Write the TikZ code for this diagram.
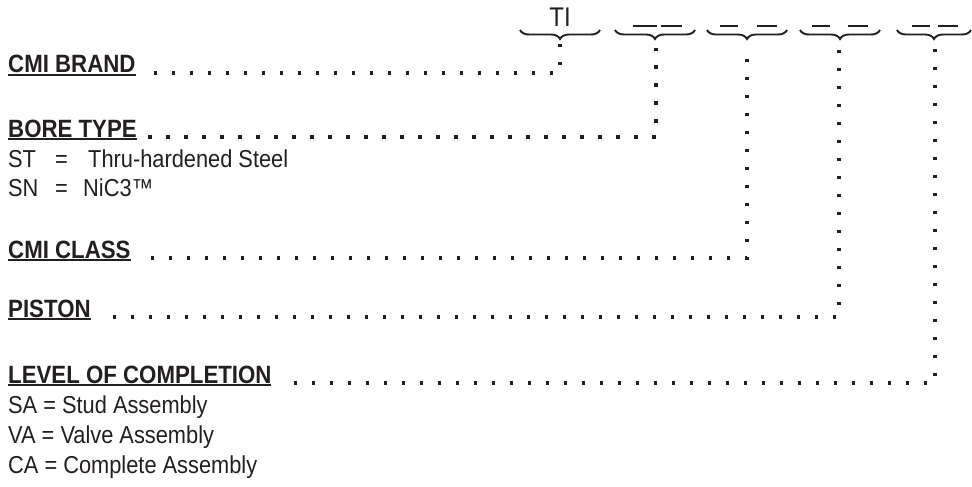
\documentclass[tikz,border=0pt]{standalone}
\usepackage{fontspec}
\setmainfont{Liberation Sans}[FakeStretch=0.89]
\usetikzlibrary{decorations.pathreplacing}
\definecolor{ink}{HTML}{231F20}
\newcommand{\ulbold}[1]{\setbox0=\hbox{#1}\rlap{\rule[-3pt]{\wd0}{2pt}}\box0}
\begin{document}
\begin{tikzpicture}[x=1pt,y=-1pt,
  lbl/.style={anchor=base west, inner sep=0pt, text=ink, font=\fontsize{25}{30}\selectfont\bfseries},
  desc/.style={anchor=base west, inner sep=0pt, text=ink, font=\fontsize{24.5}{30}\selectfont},
  dotline/.style={draw=ink, line width=3.6pt, dash pattern=on 3.6pt off 14.4pt},
  bracemark/.style={draw=ink, line width=1.9pt, decorate, decoration={brace, mirror, amplitude=9pt}},
  dashmark/.style={draw=ink, line width=2.8pt}]
\useasboundingbox (0,0) rectangle (972,487);

% header
\node[anchor=base, inner sep=0pt, text=ink, font=\fontsize{27}{30}\selectfont] (ti) at (560,27) {TI};
\draw[bracemark] (520,30) -- (600,30);
\draw[bracemark] (615,30) -- (695,30);
\draw[bracemark] (707,30) -- (787,30);
\draw[bracemark] (800,30) -- (880,30);
\draw[bracemark] (897,30) -- (971,30);
\draw[dashmark] (633,26) -- (657,26);
\draw[dashmark] (661,26) -- (682,26);
\draw[dashmark] (720,26) -- (738,26);
\draw[dashmark] (757,26) -- (777,26);
\draw[dashmark] (812,26) -- (830,26);
\draw[dashmark] (848,26) -- (868,26);
\draw[dashmark] (912,26) -- (930,26);
\draw[dashmark] (938,26) -- (958,26);

% brace tips
\coordinate (t1) at (560,42);
\coordinate (t2) at (656,48);
\coordinate (t3) at (747,48);
\coordinate (t4) at (839,48);
\coordinate (t5) at (935,48);

% labels
\node[lbl] (brand) at (8,73) {\ulbold{CMI BRAND}};
\node[lbl] (bore) at (8,137) {\ulbold{BORE TYPE}};
\node[desc] (st) at (8,167) {\makebox[47pt][l]{ST}\makebox[33pt][l]{=}Thru-hardened Steel};
\node[desc] (sn) at (8,196) {\makebox[47pt][l]{SN}\makebox[28pt][l]{=}NiC3™};
\node[lbl] (class) at (8,258) {\ulbold{CMI CLASS}};
\node[lbl] (piston) at (8,317) {\ulbold{PISTON}};
\node[lbl] (level) at (8,383) {\ulbold{LEVEL OF COMPLETION}};
\node[desc] (sa) at (8,413) {SA = Stud Assembly};
\node[desc] (va) at (8,443) {VA = Valve Assembly};
\node[desc] (ca) at (8,473) {CA = Complete Assembly};

% connectors
\draw[dotline] ([xshift=18pt]brand.base east) -| (t1);
\draw[dotline] ([xshift=11pt]bore.base east) -| (t2);
\draw[dotline] ([xshift=20pt]class.base east) -| (t3);
\draw[dotline] ([xshift=22pt]piston.base east) -| (t4);
\draw[dotline] ([xshift=22pt]level.base east) -| (t5);
\end{tikzpicture}
\end{document}
